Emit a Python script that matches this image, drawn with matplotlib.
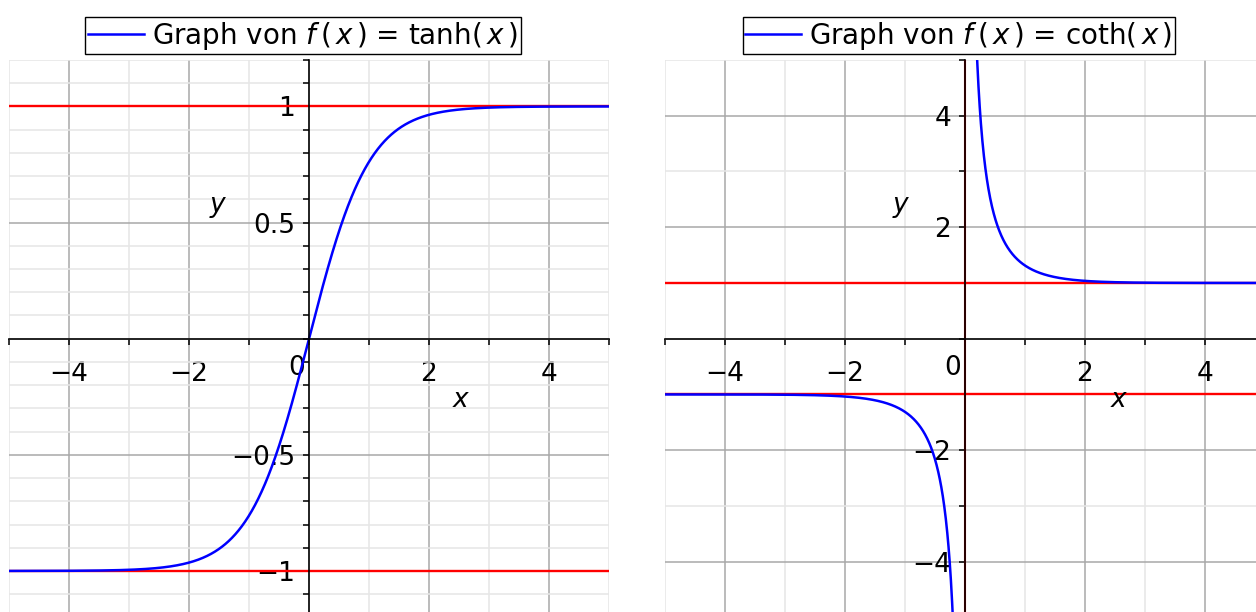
import numpy as np
import matplotlib
matplotlib.use("Agg")
from matplotlib import pyplot as plt
from matplotlib.ticker import MultipleLocator, FixedLocator, FixedFormatter
from matplotlib import transforms

plt.rcParams['font.family'] = ['DejaVu Sans']
plt.rcParams['mathtext.fontset'] = 'dejavusans'
plt.rcParams['font.size'] = 19

# x-Werte fuer beide Graphen
x_vals = np.linspace(-5, 5, 2001)
x_neg = x_vals[x_vals < 0]
x_pos = x_vals[x_vals > 0]

# Asymptoten
tanh_asym = [1, -1]
coth_asym_h = [1, -1]
coth_asym_v = [0]

# Achsenbeschriftungen
tanh_xticks = [-4, -2, 2, 4]
tanh_yticks = [-1, -0.5, 0.5, 1]
tanh_ylabels = ['\u22121', '\u22120.5', '0.5', '1']
coth_xticks = [-4, -2, 2, 4]
coth_yticks = [-4, -2, 2, 4]
coth_ylabels = ['\u22124', '\u22122', '2', '4']

legend_tanh = r'Graph von $f\,(\,x\,)$ = tanh$(\,x\,)$'
legend_coth = r'Graph von $f\,(\,x\,)$ = coth$(\,x\,)$'

W, H = 1256, 612
fig = plt.figure(figsize=(W / 100, H / 100), dpi=100)

ax1 = fig.add_axes([9 / W, -5.4 / H, 600 / W, 557.4 / H])
ax2 = fig.add_axes([665 / W, -5.4 / H, 600 / W, 557.4 / H])


def setup_axes(ax, xlim, ylim, xminor, yminor, xticks, yticks, ylabels):
    ax.set_xlim(*xlim)
    ax.set_ylim(*ylim)
    xl = ['\u2212%d' % -v if v < 0 else '%d' % v for v in xticks]
    ax.xaxis.set_major_locator(FixedLocator(xticks))
    ax.xaxis.set_major_formatter(FixedFormatter(xl))
    ax.yaxis.set_major_locator(FixedLocator(yticks))
    ax.yaxis.set_major_formatter(FixedFormatter(ylabels))
    ax.xaxis.set_minor_locator(MultipleLocator(xminor))
    ax.yaxis.set_minor_locator(MultipleLocator(yminor))
    # Gitter
    ax.grid(which='minor', color='#e6e6e6', lw=1.1, zorder=0)
    ax.grid(which='major', color='#a8a8a8', lw=1.1, zorder=0)
    ax.set_axisbelow(True)
    # Koordinatenachsen durch den Ursprung
    for s in ['top', 'right']:
        ax.spines[s].set_visible(False)
    ax.spines['left'].set_position(('data', 0))
    ax.spines['bottom'].set_position(('data', 0))
    for s in ['left', 'bottom']:
        ax.spines[s].set_linewidth(1.2)
        ax.spines[s].set_zorder(5)
    ax.tick_params(which='both', direction='out', length=4, width=1.1)
    ax.tick_params(axis='x', pad=12)
    ax.tick_params(axis='y', pad=6)
    # Null unten links am Ursprung
    off = transforms.ScaledTranslation(-3 / 72, -12 / 72, fig.dpi_scale_trans)
    ax.text(0, 0, '0', ha='right', va='top', transform=ax.transData + off, fontsize=19)


# tanh
setup_axes(ax1, (-5, 5), (-1.2, 1.2), 1, 0.1, tanh_xticks, tanh_yticks, tanh_ylabels)
for a in tanh_asym:
    ax1.axhline(a, color='red', lw=1.7, zorder=2)
ax1.plot(x_vals, np.tanh(x_vals), color='blue', lw=1.8, zorder=3, label=legend_tanh)
ax1.text(0.753, 0.39, 'x', style='italic', transform=ax1.transAxes, ha='center', va='center', fontsize=19)
ax1.text(0.347, 0.74, 'y', style='italic', transform=ax1.transAxes, ha='center', va='center', fontsize=19)

# coth
setup_axes(ax2, (-5, 5), (-5, 5), 1, 1, coth_xticks, coth_yticks, coth_ylabels)
for a in coth_asym_h:
    ax2.axhline(a, color='red', lw=1.7, zorder=2)
for a in coth_asym_v:
    ax2.axvline(a, color='red', lw=1.5, zorder=2)
ax2.plot(x_neg, 1 / np.tanh(x_neg), color='blue', lw=1.8, zorder=3, label=legend_coth)
ax2.plot(x_pos, 1 / np.tanh(x_pos), color='blue', lw=1.8, zorder=3)
ax2.text(0.755, 0.39, 'x', style='italic', transform=ax2.transAxes, ha='center', va='center', fontsize=19)
ax2.text(0.392, 0.74, 'y', style='italic', transform=ax2.transAxes, ha='center', va='center', fontsize=19)

for ax in (ax1, ax2):
    leg = ax.legend(loc='lower center', bbox_to_anchor=(0.49, 1.0), fancybox=False,
                    framealpha=1, edgecolor='black', handlelength=2.0,
                    handletextpad=0.3, borderpad=0.1, borderaxespad=0.2, fontsize=20)
    leg.get_frame().set_linewidth(1.0)

fig.savefig('out.png', dpi=100)
